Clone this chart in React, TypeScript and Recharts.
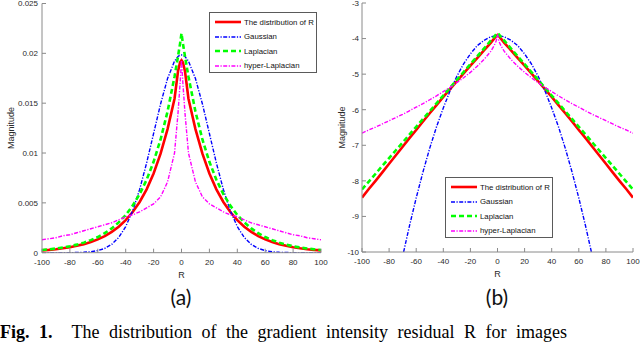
import React from 'react';
import { LineChart, Line, XAxis, YAxis } from 'recharts';

// R values (x axis)
const R_VALUES = [-100, -95, -90, -85, -80, -75, -70, -65, -60, -55, -50, -45, -40, -35, -30, -25, -20, -15, -10, -5, -2.5, -1, 0, 1, 2.5, 5, 10, 15, 20, 25, 30, 35, 40, 45, 50, 55, 60, 65, 70, 75, 80, 85, 90, 95, 100];

// Panel (a): magnitude (linear)
const A_DIST = [0.00023, 0.00028, 0.00035, 0.00044, 0.00055, 0.00069, 0.00086, 0.00107, 0.00134, 0.00167, 0.00209, 0.00261, 0.00326, 0.00408, 0.00509, 0.00636, 0.00795, 0.00993, 0.0124, 0.01545, 0.0182, 0.0191, 0.0193, 0.0191, 0.0182, 0.01545, 0.0124, 0.00993, 0.00795, 0.00636, 0.00509, 0.00408, 0.00326, 0.00261, 0.00209, 0.00167, 0.00134, 0.00107, 0.00086, 0.00069, 0.00055, 0.00044, 0.00035, 0.00028, 0.00023];
const A_GAUSS = [0, 0, 0.000001, 0.000002, 0.000006, 0.000016, 0.00004, 0.000094, 0.00021, 0.00043, 0.00084, 0.00153, 0.00262, 0.0042, 0.00635, 0.009, 0.01196, 0.01492, 0.01747, 0.01922, 0.01968, 0.01982, 0.01984, 0.01982, 0.01968, 0.01922, 0.01747, 0.01492, 0.01196, 0.009, 0.00635, 0.0042, 0.00262, 0.00153, 0.00084, 0.00043, 0.00021, 0.000094, 0.00004, 0.000016, 0.000006, 0.000002, 0.000001, 0, 0];
const A_LAPLACE = [0.00027, 0.00034, 0.00042, 0.00052, 0.00065, 0.00081, 0.00101, 0.00126, 0.00157, 0.00196, 0.00244, 0.00304, 0.00378, 0.00472, 0.00588, 0.00732, 0.00912, 0.01136, 0.01417, 0.01765, 0.0197, 0.021, 0.022, 0.021, 0.0197, 0.01765, 0.01417, 0.01136, 0.00912, 0.00732, 0.00588, 0.00472, 0.00378, 0.00304, 0.00244, 0.00196, 0.00157, 0.00126, 0.00101, 0.00081, 0.00065, 0.00052, 0.00042, 0.00034, 0.00027];
const A_HYPER = [0.0013, 0.0014, 0.0015, 0.0017, 0.0018, 0.002, 0.0022, 0.0024, 0.0026, 0.0028, 0.003, 0.0033, 0.0036, 0.0038, 0.0041, 0.0045, 0.0049, 0.0056, 0.0071, 0.01, 0.014, 0.017, 0.0193, 0.017, 0.014, 0.01, 0.0071, 0.0056, 0.0049, 0.0045, 0.0041, 0.0038, 0.0036, 0.0033, 0.003, 0.0028, 0.0026, 0.0024, 0.0022, 0.002, 0.0018, 0.0017, 0.0015, 0.0014, 0.0013];

// Panel (b): log magnitude
const B_DIST = [-8.47, -8.23, -8.0, -7.76, -7.52, -7.28, -7.04, -6.8, -6.57, -6.33, -6.1, -5.87, -5.64, -5.42, -5.2, -4.98, -4.76, -4.55, -4.33, -4.12, -4.0, -3.93, -3.9, -3.93, -4.0, -4.12, -4.33, -4.55, -4.76, -4.98, -5.2, -5.42, -5.64, -5.87, -6.1, -6.33, -6.57, -6.8, -7.04, -7.28, -7.52, -7.76, -8.0, -8.23, -8.47];
const B_GAUSS = [-16.58, -15.34, -14.17, -13.07, -12.02, -11.04, -10.12, -9.27, -8.48, -7.75, -7.08, -6.48, -5.95, -5.47, -5.06, -4.71, -4.43, -4.2, -4.05, -3.95, -3.93, -3.92, -3.92, -3.92, -3.93, -3.95, -4.05, -4.2, -4.43, -4.71, -5.06, -5.47, -5.95, -6.48, -7.08, -7.75, -8.48, -9.27, -10.12, -11.04, -12.02, -13.07, -14.17, -15.34, -16.58];
const B_LAPLACE = [-8.24, -8.02, -7.8, -7.58, -7.36, -7.14, -6.92, -6.7, -6.48, -6.26, -6.04, -5.82, -5.6, -5.38, -5.16, -4.94, -4.72, -4.5, -4.28, -4.06, -3.95, -3.88, -3.84, -3.88, -3.95, -4.06, -4.28, -4.5, -4.72, -4.94, -5.16, -5.38, -5.6, -5.82, -6.04, -6.26, -6.48, -6.7, -6.92, -7.14, -7.36, -7.58, -7.8, -8.02, -8.24];
const B_HYPER = [-6.66, -6.57, -6.49, -6.4, -6.31, -6.22, -6.13, -6.03, -5.93, -5.83, -5.72, -5.61, -5.49, -5.37, -5.24, -5.1, -4.95, -4.78, -4.59, -4.36, -4.2, -4.07, -3.88, -4.07, -4.2, -4.36, -4.59, -4.78, -4.95, -5.1, -5.24, -5.37, -5.49, -5.61, -5.72, -5.83, -5.93, -6.03, -6.13, -6.22, -6.31, -6.4, -6.49, -6.57, -6.66];

const X_TICKS = [-100, -80, -60, -40, -20, 0, 20, 40, 60, 80, 100];
const A_Y_TICKS = [0, 0.005, 0.01, 0.015, 0.02, 0.025];
const B_Y_TICKS = [-10, -9, -8, -7, -6, -5, -4, -3];
const SERIES_NAMES = ['The distribution of R', 'Gaussian', 'Laplacian', 'hyper-Laplacian'];
const SERIES_KEYS = ['dist', 'gauss', 'laplace', 'hyper'];

const STYLES = [
  { color: '#ff0000', width: 2.6, dash: undefined as string | undefined },
  { color: '#0000ff', width: 1.4, dash: '4 1.5 1.2 1.5' },
  { color: '#00ff00', width: 2.6, dash: '5 3' },
  { color: '#ff00ff', width: 1.4, dash: '4 1.5 1.2 1.5' },
];

function rows(series: number[][]) {
  return R_VALUES.map((x, i) => {
    const r: Record<string, number> = { x };
    SERIES_KEYS.forEach((k, j) => (r[k] = series[j][i]));
    return r;
  });
}

const DATA_A = rows([A_DIST, A_GAUSS, A_LAPLACE, A_HYPER]);
const DATA_B = rows([B_DIST, B_GAUSS, B_LAPLACE, B_HYPER]);

const FONT = '"Liberation Sans", Arial, sans-serif';
const AXIS_COLOR = '#8a8a8a';
const TEXT_COLOR = '#2a2a2a';

function LegendBox({ left, top }: { left: number; top: number }) {
  return (
    <div
      style={{
        position: 'absolute',
        left,
        top,
        width: 108,
        height: 61,
        border: '1px solid #5a5a5a',
        background: '#fff',
        boxSizing: 'border-box',
        fontFamily: FONT,
        fontSize: 7.8,
        color: '#111',
      }}
    >
      {SERIES_NAMES.map((name, i) => (
        <div key={name} style={{ position: 'absolute', left: 5, top: 3 + i * 14.6, height: 12, display: 'flex', alignItems: 'center', whiteSpace: 'nowrap' }}>
          <svg width={27} height={6} style={{ marginRight: 2 }}>
            <line x1={0} y1={3} x2={26} y2={3} stroke={STYLES[i].color} strokeWidth={STYLES[i].width} strokeDasharray={STYLES[i].dash} />
          </svg>
          <span>{name}</span>
        </div>
      ))}
    </div>
  );
}

type PanelProps = {
  data: Record<string, number>[];
  domain: [number, number];
  yTicks: number[];
  yWidth: number;
  width: number;
  margin: { top: number; right: number; left: number; bottom: number };
  tickMarginY: number;
  labelOffset: number;
};

function Panel({ data, domain, yTicks, yWidth, width, margin, tickMarginY, labelOffset }: PanelProps) {
  const tickStyle = { fill: TEXT_COLOR, fontSize: 8, fontFamily: FONT };
  return (
    <LineChart width={width} height={290} data={data} margin={margin}>
      <XAxis
        dataKey="x"
        type="number"
        domain={[-100, 100]}
        ticks={X_TICKS}
        allowDataOverflow
        height={30}
        tickSize={-4}
        tickMargin={10.5}
        stroke={AXIS_COLOR}
        tick={tickStyle}
        interval={0}
        label={{
          content: (p: any) => {
            const vb = p.viewBox;
            return (
              <text x={vb.x + vb.width / 2} y={vb.y + 25} textAnchor="middle" fontSize={9} fontFamily={FONT} fill={TEXT_COLOR}>
                R
              </text>
            );
          },
        }}
      />
      <XAxis xAxisId="top" orientation="top" dataKey="x" type="number" domain={[-100, 100]} ticks={X_TICKS} allowDataOverflow height={0} tickSize={-4} tick={false} stroke={AXIS_COLOR} interval={0} />
      <YAxis
        type="number"
        domain={domain}
        ticks={yTicks}
        allowDataOverflow
        width={yWidth}
        tickSize={-4}
        tickMargin={tickMarginY}
        stroke={AXIS_COLOR}
        tick={tickStyle}
        interval={0}
        label={{
          content: (p: any) => {
            const vb = p.viewBox;
            const cx = vb.x + labelOffset;
            const cy = vb.y + vb.height / 2;
            return (
              <text x={cx} y={cy} transform={`rotate(-90 ${cx} ${cy})`} textAnchor="middle" dominantBaseline="central" fontSize={9} fontFamily={FONT} fill={TEXT_COLOR}>
                Magnitude
              </text>
            );
          },
        }}
      />
      <YAxis yAxisId="right" orientation="right" type="number" domain={domain} ticks={yTicks} allowDataOverflow width={0} tickSize={-4} tick={false} stroke={AXIS_COLOR} interval={0} />
      {SERIES_KEYS.map((k, i) => (
        <Line
          key={k}
          dataKey={k}
          name={SERIES_NAMES[i]}
          type="linear"
          dot={false}
          activeDot={false}
          stroke={STYLES[i].color}
          strokeWidth={STYLES[i].width}
          strokeDasharray={STYLES[i].dash}
          isAnimationActive={false}
        />
      ))}
    </LineChart>
  );
}

export default function App() {
  return (
    <div style={{ position: 'fixed', left: 0, top: 0, width: 640, height: 342, overflow: 'hidden', background: '#fff' }}>
      <div style={{ position: 'absolute', left: 0, top: 0 }}>
        <Panel data={DATA_A} domain={[0, 0.025]} yTicks={A_Y_TICKS} yWidth={42} width={330} margin={{ top: 3.5, right: 9, left: 0, bottom: 7.3 }} tickMarginY={8} labelOffset={11} />
      </div>
      <LegendBox left={209} top={12} />
      <div style={{ position: 'absolute', left: 330, top: 0 }}>
        <Panel data={DATA_B} domain={[-10, -3]} yTicks={B_Y_TICKS} yWidth={32} width={310} margin={{ top: 3, right: 7, left: 0, bottom: 8 }} tickMarginY={7} labelOffset={12} />
      </div>
      <LegendBox left={445} top={177} />
      <div style={{ position: 'absolute', left: 131, top: 284, width: 100, textAlign: 'center', fontFamily: 'Lato, "Open Sans", sans-serif', fontSize: 21, color: '#111', lineHeight: '26px' }}>(a)</div>
      <div style={{ position: 'absolute', left: 447, top: 284, width: 100, textAlign: 'center', fontFamily: 'Lato, "Open Sans", sans-serif', fontSize: 21, color: '#111', lineHeight: '26px' }}>(b)</div>
      <div style={{ position: 'absolute', left: 0, top: 323, whiteSpace: 'nowrap', fontFamily: '"Liberation Serif", "Times New Roman", serif', fontSize: 18, lineHeight: '19px', color: '#000', wordSpacing: 5 }}>
        <b>Fig. 1.</b>&nbsp;&nbsp;The distribution of the gradient intensity residual R for images
      </div>
    </div>
  );
}
